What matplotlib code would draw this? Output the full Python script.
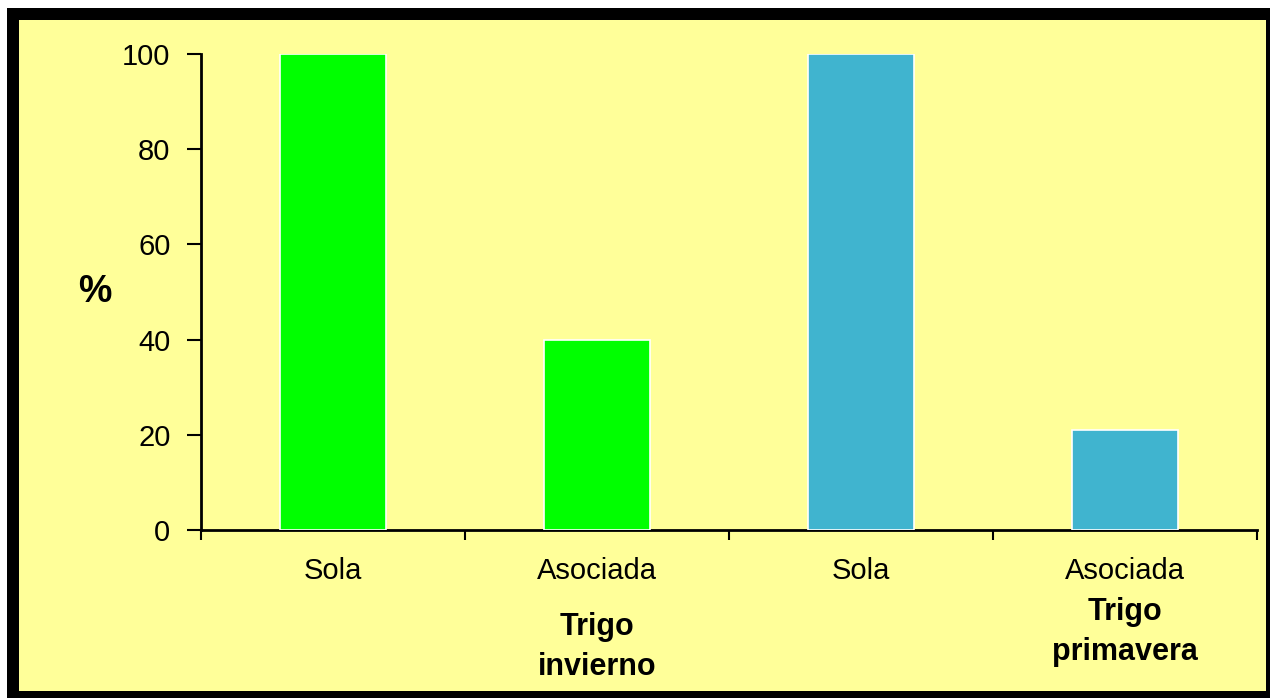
import matplotlib
matplotlib.use("Agg")
import matplotlib.pyplot as plt
from matplotlib.patches import Rectangle
from matplotlib.transforms import blended_transform_factory

plt.rcParams['font.family'] = ['Liberation Sans', 'DejaVu Sans']

categories = ["Sola", "Asociada", "Sola", "Asociada"]
values = [100, 40, 100, 21]
bar_colors = ["#00FF00", "#00FF00", "#40B4CF", "#40B4CF"]
group_labels = ["Trigo\ninvierno", "Trigo\nprimavera"]
y_ticks = [0, 20, 40, 60, 80, 100]

W, H = 1270, 698
fig = plt.figure(figsize=(W / 100, H / 100), dpi=100, facecolor="white")

def px_rect(x0, y0, x1, y1, color, z):
    fig.patches.append(Rectangle((x0 / W, 1 - y1 / H), (x1 - x0) / W, (y1 - y0) / H,
                                 transform=fig.transFigure, facecolor=color,
                                 edgecolor="none", zorder=z))

# black frame with pale yellow panel
px_rect(7, 8, 1270, 698, "black", -2)
px_rect(19, 20, 1266, 691, "#FFFF99", -1)

ax = fig.add_axes([201 / W, (H - 530) / H, (1257 - 201) / W, (530 - 54) / H])
ax.set_zorder(2)
ax.set_facecolor("none")
x = list(range(len(values)))
ax.bar(x, values, width=0.4, color=bar_colors, edgecolor="white", linewidth=1.2, zorder=3)
ax.set_xlim(-0.5, len(values) - 0.5)
ax.set_ylim(0, 100)
ax.set_yticks(y_ticks)
ax.tick_params(axis="y", direction="out", length=10, width=1.5, labelsize=21, pad=12)
ax.set_xticks([i - 0.5 for i in range(len(values) + 1)])
ax.set_xticklabels([])
ax.tick_params(axis="x", direction="out", length=7, width=1.5)
for s in ["top", "right"]:
    ax.spines[s].set_visible(False)
for s in ["left", "bottom"]:
    ax.spines[s].set_linewidth(2)

tr = blended_transform_factory(ax.transData, fig.transFigure)
for i, c in enumerate(categories):
    ax.text(i, 1 - 571 / H, c, ha="center", va="center", fontsize=21, transform=tr, clip_on=False)

ax.text(1, 1 - 647 / H, group_labels[0], ha="center", va="center", fontsize=22,
        fontweight="bold", linespacing=1.45, transform=tr, clip_on=False)
ax.text(3, 1 - 632 / H, group_labels[1], ha="center", va="center", fontsize=22,
        fontweight="bold", linespacing=1.45, transform=tr, clip_on=False)

fig.text(95 / W, 1 - 292 / H, "%", ha="center", va="center", fontsize=27, fontweight="bold")

fig.savefig("out.png", dpi=100, facecolor="white")
